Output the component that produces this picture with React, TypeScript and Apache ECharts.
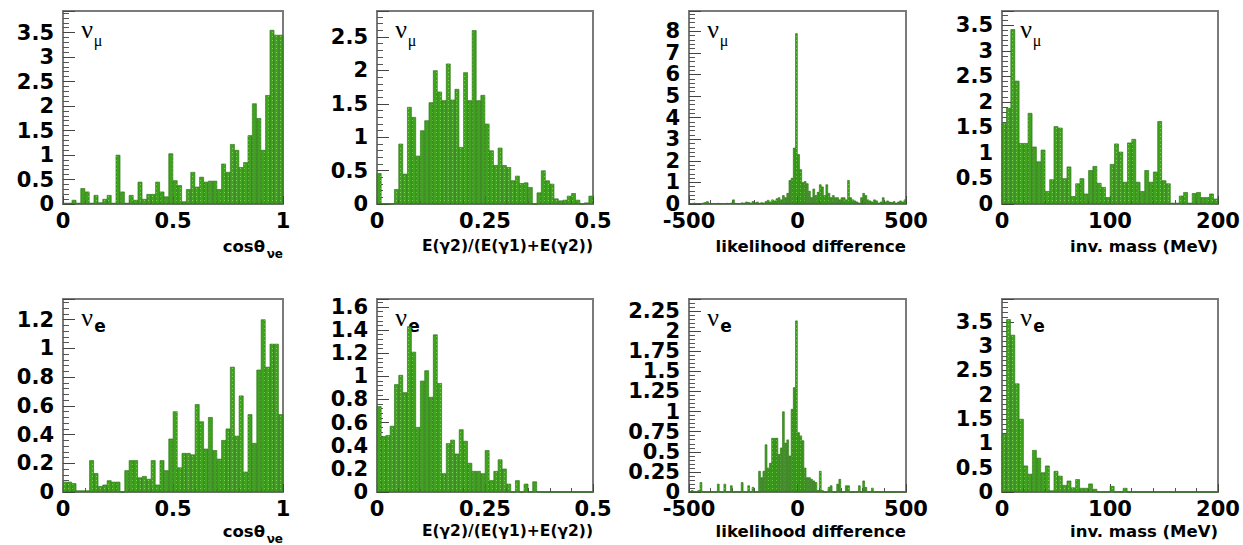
import { useEffect, useRef } from "react";
import * as echarts from "echarts";

// ---- data (bin contents) ----
const cosNuMu = [0.02, 0.02, 0.08, 0.02, 0.32, 0.25, 0.02, 0.18, 0.03, 0.1, 0.18, 0.02, 1.0, 0.25, 0.02, 0.18, 0.08, 0.45, 0.1, 0.2, 0.2, 0.45, 0.25, 0.15, 1.03, 0.48, 0.38, 0.05, 0.3, 0.65, 0.35, 0.55, 0.45, 0.47, 0.47, 0.3, 0.82, 0.65, 1.22, 1.1, 0.75, 0.85, 1.4, 2.05, 1.75, 1.1, 2.22, 3.55, 3.45, 3.45];
const ratioNuMu = [0.46, 0, 0, 0, 0.22, 0.9, 0.45, 1.45, 1.3, 0.72, 1.1, 1.25, 1.52, 2.0, 1.68, 1.55, 2.1, 1.56, 1.72, 0.85, 1.97, 1.55, 2.6, 1.55, 1.63, 1.2, 0.8, 0.58, 0.84, 0.58, 0.55, 0.35, 0.42, 0.31, 0.32, 0.25, 0, 0.17, 0.5, 0.35, 0.3, 0.08, 0.05, 0.06, 0.12, 0.16, 0.06, 0, 0.02, 0.12];
const likeNuMu = [0.03, 0.02, 0.05, 0.02, 0.03, 0.02, 0.05, 0.08, 0.12, 0.04, 0.02, 0.03, 0.02, 0.04, 0.02, 0.03, 0.02, 0.04, 0.03, 0.05, 0.2, 0.04, 0.02, 0.03, 0.06, 0.05, 0.1, 0.08, 0.05, 0.12, 0.06, 0.1, 0.04, 0.07, 0.05, 0.12, 0.18, 0.1, 0.2, 0.15, 0.25, 0.3, 0.2, 0.4, 0.3, 0.5, 1.1, 1.2, 2.6, 7.9, 2.3, 1.6, 1.0, 1.05, 0.95, 0.6, 0.3, 0.7, 0.4, 0.55, 0.9, 0.8, 0.4, 0.9, 0.5, 0.3, 0.4, 0.3, 0.3, 0.2, 0.3, 0.3, 0.2, 1.1, 0.3, 0.2, 0.15, 0.1, 0.05, 0.3, 0.5, 0.4, 0.2, 0.15, 0.1, 0.2, 0.15, 0.05, 0.1, 0.3, 0.1, 0.15, 0.1, 0.08, 0.12, 0.05, 0.1, 0.15, 0.1, 0.2];
const massNuMu = [1.58, 1.88, 3.42, 2.41, 1.19, 1.19, 1.78, 1.12, 0.83, 1.06, 0.25, 0.48, 1.52, 1.49, 0.5, 0.73, 0.15, 0.4, 0.5, 0.2, 0.66, 0.74, 0.41, 0.33, 0.13, 0.78, 1.18, 1.02, 0.43, 1.2, 1.27, 0.43, 0.25, 0.66, 0.43, 0.63, 1.62, 0.46, 0.4, 0.02, 0.02, 0.16, 0.23, 0.02, 0.21, 0.23, 0.13, 0.13, 0.2, 0.1];
const cosNuE = [0.07, 0.07, 0.06, 0.01, 0.01, 0.01, 0.22, 0.13, 0.04, 0.05, 0.08, 0.07, 0.07, 0, 0.15, 0.22, 0.22, 0.1, 0.11, 0.09, 0.22, 0.05, 0.22, 0.15, 0.37, 0.56, 0.17, 0.27, 0.27, 0.26, 0.61, 0.49, 0.3, 0.52, 0.29, 0.23, 0.36, 0.44, 0.87, 0.39, 0.67, 0.14, 0.54, 0.34, 0.85, 1.2, 0.87, 1.03, 1.03, 0.54];
const ratioNuE = [0.74, 0.48, 0.49, 0.57, 0.93, 1.01, 0.86, 1.43, 1.21, 0.56, 0.96, 1.05, 0.82, 1.36, 0.94, 0.16, 0.42, 0.45, 0.33, 0.54, 0.44, 0.25, 0.18, 0.18, 0.16, 0.36, 0.1, 0.18, 0.28, 0.2, 0.07, 0, 0.1, 0, 0.07, 0, 0.09, 0, 0, 0, 0, 0, 0, 0, 0, 0, 0, 0, 0, 0];
const likeNuE = [0, 0.02, 0, 0, 0.02, 0.12, 0, 0, 0, 0, 0, 0, 0, 0.1, 0, 0, 0.1, 0, 0, 0.08, 0, 0, 0, 0, 0.12, 0, 0, 0.08, 0, 0.06, 0, 0, 0.26, 0.18, 0.26, 0.59, 0.3, 0.36, 0.67, 0.67, 0.67, 0.47, 0.55, 1.0, 0.61, 0.65, 0.45, 1.03, 1.3, 2.13, 0.74, 0.7, 0.64, 0.3, 0.18, 0.18, 0.16, 0.14, 0.12, 0.02, 0.26, 0.02, 0, 0, 0.06, 0.08, 0, 0, 0.1, 0.16, 0, 0, 0.08, 0.08, 0, 0, 0, 0, 0.08, 0, 0.14, 0.06, 0, 0, 0.05, 0, 0, 0, 0, 0, 0, 0, 0, 0, 0, 0, 0, 0, 0, 0];
const massNuE = [1.19, 3.55, 3.23, 2.23, 1.5, 0.54, 0.37, 0.86, 0.7, 0.4, 0.54, 0.03, 0.43, 0.33, 0.14, 0.23, 0.09, 0.26, 0.08, 0.08, 0.17, 0.06, 0, 0, 0, 0.12, 0, 0, 0.08, 0, 0, 0, 0, 0, 0, 0, 0, 0, 0, 0, 0, 0, 0, 0, 0, 0, 0, 0, 0, 0];

const xTitles = ["cosθ", "E(γ2)/(E(γ1)+E(γ2))", "likelihood difference", "inv. mass (MeV)"];
const xRanges = [
  { min: 0, max: 1, step: 0.5 },
  { min: 0, max: 0.5, step: 0.25 },
  { min: -500, max: 500, step: 500 },
  { min: 0, max: 200, step: 100 },
];
const rowSeries = [
  [cosNuMu, ratioNuMu, likeNuMu, massNuMu],
  [cosNuE, ratioNuE, likeNuE, massNuE],
];
const yMaxes = [
  [3.94, 2.89, 8.94, 3.78],
  [1.343, 1.668, 2.4, 3.97],
];
const ySteps = [
  [0.5, 0.5, 1, 0.5],
  [0.2, 0.2, 0.25, 0.5],
];
const flavourSub = ["μ", "e"];

// ---- layout ----
const colLeft = [63, 377, 689, 1002];
const colWidth = [220, 216, 217, 216];
const rowTop = [11, 299];
const plotH = 193;

const FONT = "DejaVu Sans";
const fill = "#3fa320";

function stepFormatter(step: number, zeroOnly: boolean) {
  return (v: number) => {
    const r = Math.round(v / step);
    if (Math.abs(v / step - r) > 1e-6) return "";
    if (zeroOnly) return r === 0 ? "0" : "";
    if (r === 0) return "";
    return String(parseFloat((r * step).toFixed(4)));
  };
}

export default function App() {
  const ref = useRef<HTMLDivElement>(null);
  useEffect(() => {
    if (!ref.current) return;
    const chart = echarts.init(ref.current, null, { renderer: "svg" });
    const grids: any[] = [];
    const xAxes: any[] = [];
    const yAxes: any[] = [];
    const series: any[] = [];
    const graphics: any[] = [];
    const labelStyle = {
      fontFamily: FONT,
      fontWeight: "bold",
      fontSize: 21,
      color: "#000",
      hideOverlap: false,
    };
    for (let r = 0; r < 2; r++) {
      for (let c = 0; c < 4; c++) {
        const i = r * 4 + c;
        const vals = rowSeries[r][c];
        const xr = xRanges[c];
        const left = colLeft[c];
        const top = rowTop[r];
        const right = left + colWidth[c];
        grids.push({
          left,
          top,
          width: colWidth[c],
          height: plotH,
          show: true,
          borderColor: "#7a7a7a",
          borderWidth: 2,
          backgroundColor: "transparent",
          outerBoundsMode: "none",
        });
        xAxes.push({
          type: "category",
          gridIndex: i,
          data: vals.map((_, k) => k),
          show: false,
          boundaryGap: true,
        });
        xAxes.push({
          type: "value",
          gridIndex: i,
          position: "bottom",
          min: xr.min,
          max: xr.max,
          interval: xr.step,
          axisLine: { show: false, onZero: false },
          axisTick: { show: true, inside: true, length: 8, lineStyle: { color: "#444", width: 1 } },
          minorTick: { show: true, splitNumber: 5, length: 4, lineStyle: { color: "#555", width: 1 } },
          splitLine: { show: false },
          axisLabel: { ...labelStyle, margin: 6, showMinLabel: true, showMaxLabel: true },
        });
        const ys = ySteps[r][c];
        // main y axis: ticks and non-zero labels
        yAxes.push({
          type: "value",
          gridIndex: i,
          position: "left",
          min: 0,
          max: yMaxes[r][c],
          interval: ys,
          axisLine: { show: false, onZero: false },
          axisTick: { show: true, inside: true, length: 12, lineStyle: { color: "#444", width: 1 } },
          minorTick: { show: true, splitNumber: 5, length: 6, lineStyle: { color: "#555", width: 1 } },
          splitLine: { show: false },
          axisLabel: { ...labelStyle, margin: 9, formatter: stepFormatter(ys, false) },
        });
        series.push({
          type: "bar",
          xAxisIndex: 2 * i,
          yAxisIndex: 2 * i,
          data: vals,
          barCategoryGap: "0%",
          itemStyle: {
            color: fill,
            borderColor: "#2c7414",
            borderWidth: 0.4,
            decal: {
              symbol: "rect",
              symbolSize: 1,
              color: "rgba(140,225,100,0.8)",
              dashArrayX: [1, 3],
              dashArrayY: [1, 3],
              rotation: 0,
            },
          },
          emphasis: { disabled: true },
        });
        // companion y axis carrying only the "0" label
        yAxes.push({
          type: "value",
          gridIndex: i,
          position: "left",
          min: 0,
          max: yMaxes[r][c],
          interval: ys,
          axisLine: { show: false, onZero: false },
          axisTick: { show: false },
          splitLine: { show: false },
          axisLabel: { ...labelStyle, margin: 9, showMinLabel: true, formatter: stepFormatter(ys, true) },
        });
        // flavour label
        const nuY = r === 0 ? 29 : 317;
        graphics.push({
          type: "text",
          x: left + 24,
          y: nuY,
          style: {
            text: "ν",
            fontFamily: "Liberation Serif",
            fontSize: 26,
            fill: "#000",
            align: "center",
            verticalAlign: "middle",
            textAlign: "center",
            textVerticalAlign: "middle",
          },
        });
        graphics.push({
          type: "text",
          x: left + (r === 0 ? 35 : 37),
          y: r === 0 ? 40 : 326,
          style: {
            text: flavourSub[r],
            fontFamily: r === 0 ? "Liberation Serif" : FONT,
            fontWeight: r === 0 ? "normal" : "bold",
            fontSize: r === 0 ? 16 : 17,
            fill: "#000",
            align: "center",
            verticalAlign: "middle",
            textAlign: "center",
            textVerticalAlign: "middle",
          },
        });
        // axis title
        const ty = r === 0 ? 246 : 531;
        if (c === 0) {
          graphics.push({
            type: "text",
            x: right - 18,
            y: ty,
            style: {
              text: xTitles[c],
              fontFamily: FONT,
              fontWeight: "bold",
              fontSize: 16.5,
              fill: "#000",
              align: "right",
              verticalAlign: "middle",
              textAlign: "right",
              textVerticalAlign: "middle",
            },
          });
          graphics.push({
            type: "text",
            x: right,
            y: ty + 8,
            style: {
              text: "νe",
              fontFamily: FONT,
              fontWeight: "bold",
              fontSize: 12,
              fill: "#000",
              align: "right",
              verticalAlign: "middle",
              textAlign: "right",
              textVerticalAlign: "middle",
            },
          });
        } else {
          graphics.push({
            type: "text",
            x: right,
            y: ty,
            style: {
              text: xTitles[c],
              fontFamily: FONT,
              fontWeight: "bold",
              fontSize: c === 1 ? 15.5 : 16.5,
              fill: "#000",
              align: "right",
              verticalAlign: "middle",
              textAlign: "right",
              textVerticalAlign: "middle",
            },
          });
        }
      }
    }
    chart.setOption({
      animation: false,
      backgroundColor: "#fff",
      aria: { enabled: true, decal: { show: true } },
      grid: grids,
      xAxis: xAxes,
      yAxis: yAxes,
      series,
      graphic: graphics,
    });
    return () => chart.dispose();
  }, []);
  return (
    <div
      ref={ref}
      style={{ position: "fixed", left: 0, top: 0, width: 1243, height: 545, background: "#fff" }}
    />
  );
}
